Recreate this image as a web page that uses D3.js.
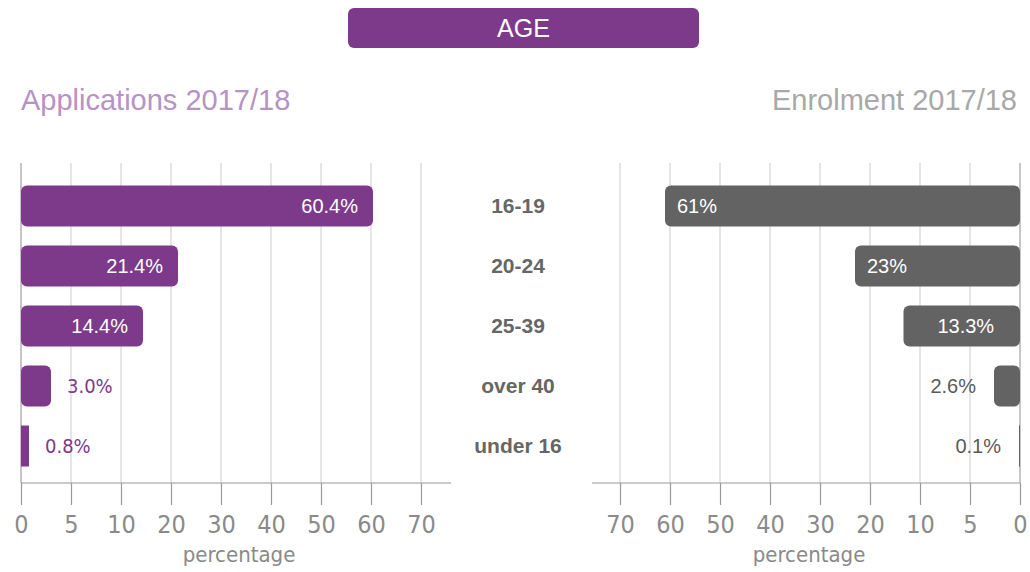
<!DOCTYPE html>
<html>
<head>
<meta charset="utf-8">
<script src="https://cdn.jsdelivr.net/npm/d3@7"></script>
<style>
  body { margin: 0; background: #fff; }
  svg { display: block; }
</style>
</head>
<body>
<div id="chart"></div>
<script>
// data
var categories = ["16-19", "20-24", "25-39", "over 40", "under 16"];
var applications = [60.4, 21.4, 14.4, 3.0, 0.8];
var enrolment = [61, 23, 13.3, 2.6, 0.1];
var appLabels = ["60.4%", "21.4%", "14.4%", "3.0%", "0.8%"];
var enrLabels = ["61%", "23%", "13.3%", "2.6%", "0.1%"];
var tickValues = [0, 5, 10, 20, 30, 40, 50, 60, 70];

var width = 1030, height = 572;
var purple = "#7e3a8a", grey = "#636363";
var sans = "'Liberation Sans', Arial, sans-serif";
var cond = "'DejaVu Sans Condensed', 'DejaVu Sans', sans-serif";

var svg = d3.select("#chart").append("svg")
    .attr("width", width)
    .attr("height", height);

// title box
svg.append("rect")
    .attr("x", 348).attr("y", 8)
    .attr("width", 351).attr("height", 40)
    .attr("rx", 6)
    .attr("fill", purple);
svg.append("text")
    .attr("x", 523.5).attr("y", 37)
    .attr("text-anchor", "middle")
    .attr("fill", "#fff")
    .style("font", "25px " + sans)
    .text("AGE");

svg.append("text")
    .attr("x", 21).attr("y", 110)
    .attr("fill", "#b792c5")
    .style("font", "29px " + sans)
    .text("Applications 2017/18");
svg.append("text")
    .attr("x", 1017).attr("y", 110)
    .attr("text-anchor", "end")
    .attr("fill", "#a8a8a8")
    .style("font", "29px " + sans)
    .text("Enrolment 2017/18");

// the axis is stretched: 0-5-10 get the same room as every later 10
var xLeft = d3.scaleLinear()
    .domain(tickValues)
    .range(tickValues.map(function(d, i) { return 21 + i * 50; }));
var xRight = d3.scaleLinear()
    .domain(tickValues)
    .range(tickValues.map(function(d, i) { return 1020 - i * 50; }));

var y = d3.scaleBand()
    .domain(categories)
    .range([176, 476])
    .paddingInner(0.317)
    .paddingOuter(0.158);

var gridTop = 163, axisY = 483;

function drawSide(x, lineFrom, lineTo) {
    var g = svg.append("g");
    // grid
    g.selectAll(".grid")
        .data(tickValues)
        .enter().append("line")
        .attr("x1", function(d) { return x(d); })
        .attr("x2", function(d) { return x(d); })
        .attr("y1", gridTop).attr("y2", axisY)
        .attr("stroke", function(d) { return d === 0 ? "#a0a0a0" : "#d4d4d4"; })
        .attr("stroke-width", 1.2);

    // axis
    var axis = g.append("g")
        .attr("transform", "translate(0," + axisY + ")")
        .call(d3.axisBottom(x).tickValues(tickValues).tickSize(22).tickPadding(10));
    axis.select(".domain").remove();
    axis.selectAll(".tick line").attr("stroke", "#9a9a9a").attr("stroke-width", 1.2);
    axis.selectAll(".tick text")
        .attr("fill", "#8a8a8a")
        .style("font", "25px " + cond);

    g.append("line")
        .attr("x1", lineFrom).attr("x2", lineTo)
        .attr("y1", axisY).attr("y2", axisY)
        .attr("stroke", "#9a9a9a").attr("stroke-width", 1.2);

    g.append("text")
        .attr("x", (lineFrom + lineTo) / 2 + 3).attr("y", 562)
        .attr("text-anchor", "middle")
        .attr("fill", "#8a8a8a")
        .style("font", "22px " + cond)
        .text("percentage");
    return g;
}

var left = drawSide(xLeft, 21, 451);
var right = drawSide(xRight, 592, 1020);

// left bars
left.selectAll(".bar")
    .data(applications)
    .enter().append("rect")
    .attr("x", xLeft(0))
    .attr("y", function(d, i) { return y(categories[i]); })
    .attr("width", function(d) { return xLeft(d) - xLeft(0); })
    .attr("height", y.bandwidth())
    .attr("rx", function(d) { return xLeft(d) - xLeft(0) > 12 ? 6 : 0; })
    .attr("fill", purple);

left.selectAll(".lbl")
    .data(applications)
    .enter().append("text")
    .attr("x", function(d) { return d > 10 ? xLeft(d) - 15 : xLeft(d) + 16; })
    .attr("y", function(d, i) { return y(categories[i]) + y.bandwidth() / 2 + 7; })
    .attr("text-anchor", function(d) { return d > 10 ? "end" : "start"; })
    .attr("fill", function(d) { return d > 10 ? "#fff" : purple; })
    .style("font", function(d) { return d > 10 ? "20px " + sans : "20px " + cond; })
    .text(function(d, i) { return appLabels[i]; });

// right bars
right.selectAll(".bar")
    .data(enrolment)
    .enter().append("rect")
    .attr("x", function(d) { return xRight(d); })
    .attr("y", function(d, i) { return y(categories[i]); })
    .attr("width", function(d) { return xRight(0) - xRight(d); })
    .attr("height", y.bandwidth())
    .attr("rx", function(d) { return xRight(0) - xRight(d) > 12 ? 6 : 0; })
    .attr("fill", grey);

right.selectAll(".lbl")
    .data(enrolment)
    .enter().append("text")
    .attr("x", function(d) {
        if (d >= 20) return xRight(d) + 12;
        if (d >= 10) return (xRight(d) + xRight(0)) / 2 + 4;
        return xRight(d) - 18;
    })
    .attr("y", function(d, i) { return y(categories[i]) + y.bandwidth() / 2 + 7; })
    .attr("text-anchor", function(d) { return d >= 20 ? "start" : d >= 10 ? "middle" : "end"; })
    .attr("fill", function(d) { return d >= 10 ? "#fff" : "#5a5a5a"; })
    .style("font", "20px " + sans)
    .text(function(d, i) { return enrLabels[i]; });

// category names in the middle
svg.selectAll(".cat")
    .data(categories)
    .enter().append("text")
    .attr("x", 518)
    .attr("y", function(d) { return y(d) + y.bandwidth() / 2 + 7; })
    .attr("text-anchor", "middle")
    .attr("fill", "#666")
    .style("font", "bold 21px " + sans)
    .text(function(d) { return d; });
</script>
</body>
</html>
